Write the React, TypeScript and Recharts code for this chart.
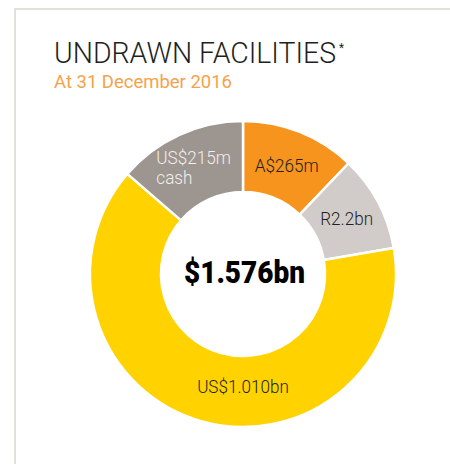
import React from 'react';
import { PieChart, Pie, Cell } from 'recharts';

// facility amounts converted to US$m (total $1.576bn)
const sliceLabels = ['A$265m', 'R2.2bn', 'US$1.010bn', 'US$215m\ncash'];
const usdValues = [191, 160, 1010, 215];
const sliceColors = ['#F7941D', '#D1CCC9', '#FFD200', '#9D9590'];
const labelColors = ['#231F20', '#231F20', '#231F20', '#F2EFEC'];

const title = 'UNDRAWN FACILITIES';
const subtitle = 'At 31 December 2016';
const total = '$1.576bn';

const data = sliceLabels.map((name, i) => ({ name, value: usdValues[i] }));

const RAD = Math.PI / 180;
const FONT = 'Roboto, "Liberation Sans", sans-serif';

const renderLabel = (props: any) => {
  const { cx, cy, midAngle, innerRadius, outerRadius, index } = props;
  const big = index === 2;
  const angle = big ? -90 : midAngle;
  const r = big ? 112 : (innerRadius + outerRadius) / 2;
  const x = cx + r * Math.cos(-angle * RAD);
  const y = cy + r * Math.sin(-angle * RAD);
  const lines = sliceLabels[index].split('\n');
  const multi = lines.length > 1;
  const lh = 20;
  return (
    <g transform={`translate(${x},${y}) scale(0.9,1)`}>
      {lines.map((ln, k) => (
        <text
          key={k}
          x={multi ? -42 : 0}
          y={(k - (lines.length - 1) / 2) * lh}
          textAnchor={multi ? 'start' : 'middle'}
          dominantBaseline="central"
          fill={labelColors[index]}
          fontFamily={FONT}
          fontWeight={300}
          fontSize={19}
        >
          {ln}
        </text>
      ))}
    </g>
  );
};

export default function App() {
  return (
    <div style={{ position: 'absolute', left: 0, top: 0, width: 450, height: 464, background: '#fff', overflow: 'hidden' }}>
      <div style={{ position: 'absolute', left: 14, top: 8, right: 0, bottom: 0, borderTop: '2px solid #E2E0DB', borderLeft: '2px solid #E2E0DB' }} />
      <svg width={450} height={110} style={{ position: 'absolute', left: 0, top: 0 }}>
        <text x={54} y={63} fontFamily={FONT} fontWeight={300} fontSize={29.5} fill="#231F20" textLength={290} lengthAdjust="spacingAndGlyphs">
          {title}
          <tspan dx={3} dy={-11} fontSize={12} fontWeight={400}>*</tspan>
        </text>
        <text x={54} y={88} fontFamily={FONT} fontWeight={400} fontSize={18.3} fill="#F7A24A" textLength={178} lengthAdjust="spacingAndGlyphs">
          {subtitle}
        </text>
      </svg>
      <div style={{ position: 'absolute', left: 0, top: 0 }}>
        <PieChart width={450} height={464} margin={{ top: 0, right: 0, bottom: 0, left: 0 }}>
          <Pie
            data={data}
            dataKey="value"
            nameKey="name"
            cx={243}
            cy={274}
            innerRadius={82}
            outerRadius={153}
            startAngle={90}
            endAngle={-270}
            stroke="#fff"
            strokeWidth={2.5}
            label={renderLabel}
            labelLine={false}
            isAnimationActive={false}
          >
            {data.map((d, i) => (
              <Cell key={d.name} fill={sliceColors[i]} />
            ))}
          </Pie>
        </PieChart>
      </div>
      <svg width={450} height={464} style={{ position: 'absolute', left: 0, top: 0, pointerEvents: 'none' }}>
        <text x={244.5} y={283} textAnchor="middle" fontFamily={FONT} fontWeight={900} fontSize={32} fill="#000" textLength={121} lengthAdjust="spacingAndGlyphs">
          {total}
        </text>
      </svg>
    </div>
  );
}
